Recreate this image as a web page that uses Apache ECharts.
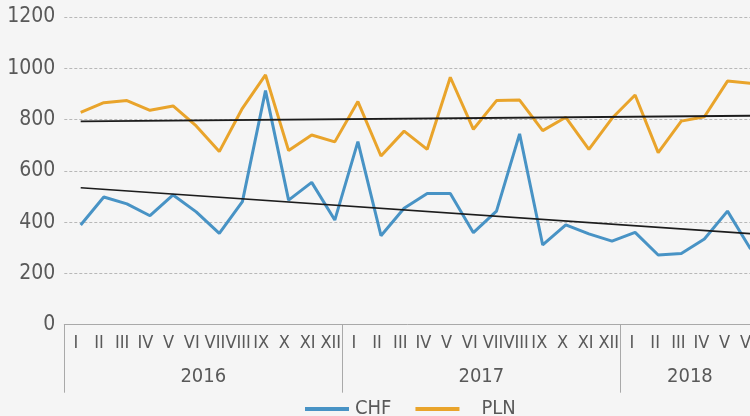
<!DOCTYPE html>
<html>
<head>
<meta charset="utf-8">
<script src="https://cdn.jsdelivr.net/npm/echarts@6/dist/echarts.min.js"></script>
<style>
html,body{margin:0;padding:0;background:#f5f5f5;}
#chart{width:750px;height:416px;}
</style>
</head>
<body>
<div id="chart"></div>
<script>
// ---- data ----
const monthLabels = [
  'I','II','III','IV','V','VI','VII','VIII','IX','X','XI','XII',
  'I','II','III','IV','V','VI','VII','VIII','IX','X','XI','XII',
  'I','II','III','IV','V','VI'
];
const years = ['2016', '2017', '2018'];
const monthsPerYear = [12, 12, 6];
const chf = [389, 498, 471, 425, 506, 440, 356, 480, 913, 486, 555, 408,
             714, 347, 454, 512, 512, 359, 443, 744, 311, 389, 354, 326,
             360, 272, 278, 334, 443, 295];
const pln = [828, 866, 874, 836, 853, 775, 675, 844, 974, 679, 740, 713,
             870, 658, 755, 684, 965, 762, 874, 876, 757, 809, 684, 805,
             896, 671, 794, 811, 950, 941];
// trend line end values (first and last month)
const chfTrend = [534, 355];
const plnTrend = [793, 815];
const yTicks = [0, 200, 400, 600, 800, 1000, 1200];

// ---- build helpers ----
const FONT = "'Liberation Sans Narrow', 'DejaVu Sans Condensed', 'Liberation Sans', sans-serif";
const nMonths = monthLabels.length;
const yearAxisData = new Array(nMonths + 1).fill('');
const yearStarts = new Set();
let start = 0;
years.forEach((y, k) => {
  yearStarts.add(start);
  yearAxisData[start + monthsPerYear[k] / 2] = y;
  start += monthsPerYear[k];
});
const lastIdx = nMonths - 1;

const chart = echarts.init(document.getElementById('chart'), null, {renderer: 'canvas'});
const option = {
  backgroundColor: '#f5f5f5',
  animation: false,
  textStyle: {fontFamily: FONT},
  grid: [
    {left: 64.3, width: 695.1, top: 17, height: 307.7, containLabel: false, outerBoundsMode: 'none'},
    {left: 69.15, width: 693, top: 17, height: 307.7, containLabel: false, outerBoundsMode: 'none'}
  ],
  xAxis: [
    {
      gridIndex: 0, type: 'category', data: monthLabels, boundaryGap: true, position: 'bottom',
      axisLine: {lineStyle: {color: '#a9a9a9', width: 1}},
      axisTick: {show: false},
      axisLabel: {interval: 0, color: '#595959', fontSize: 18, margin: 10, fontFamily: FONT, hideOverlap: false}
    },
    {
      gridIndex: 0, type: 'category', data: yearAxisData, boundaryGap: false, position: 'bottom',
      axisLine: {show: false},
      axisTick: {show: true, interval: (i) => yearStarts.has(i), length: 68,
                 lineStyle: {color: '#a9a9a9', width: 1}},
      axisLabel: {interval: 0, color: '#595959', fontSize: 20, margin: 42, fontFamily: FONT}
    },
    {
      gridIndex: 1, type: 'category', data: monthLabels, boundaryGap: true, show: false
    }
  ],
  yAxis: [
    {
      gridIndex: 0, type: 'value', min: yTicks[0], max: yTicks[yTicks.length - 1], interval: 200,
      axisLine: {show: false}, axisTick: {show: false},
      axisLabel: {color: '#595959', fontSize: 21, margin: 9, fontFamily: FONT,
                  formatter: (v) => String(v)},
      splitLine: {lineStyle: {type: [3, 2], color: '#b8b8b8', width: 1}}
    },
    {
      gridIndex: 1, type: 'value', min: yTicks[0], max: yTicks[yTicks.length - 1], show: false
    }
  ],
  legend: {
    data: [
      {name: 'CHF', textStyle: {padding: [0, 0, 0, 1]}},
      {name: 'PLN', textStyle: {padding: [0, 0, 0, 17]}}
    ],
    left: 300, top: 394,
    icon: 'rect', itemWidth: 44, itemHeight: 4, itemGap: 24,
    textStyle: {fontSize: 20, color: '#595959', fontFamily: FONT}
  },
  series: [
    {
      name: 'CHF', type: 'line', xAxisIndex: 2, yAxisIndex: 1, data: chf,
      showSymbol: false, symbol: 'none',
      lineStyle: {color: '#4893c5', width: 3}, itemStyle: {color: '#4893c5'}, z: 2
    },
    {
      name: 'PLN', type: 'line', xAxisIndex: 2, yAxisIndex: 1, data: pln,
      showSymbol: false, symbol: 'none',
      lineStyle: {color: '#e9a42b', width: 3}, itemStyle: {color: '#e9a42b'}, z: 2
    },
    {
      name: 'CHF trend', type: 'line', xAxisIndex: 2, yAxisIndex: 1,
      data: [[0, chfTrend[0]], [lastIdx, chfTrend[1]]],
      showSymbol: false, symbol: 'none', silent: true,
      lineStyle: {color: '#1c1c1c', width: 1.6}, z: 3
    },
    {
      name: 'PLN trend', type: 'line', xAxisIndex: 2, yAxisIndex: 1,
      data: [[0, plnTrend[0]], [lastIdx, plnTrend[1]]],
      showSymbol: false, symbol: 'none', silent: true,
      lineStyle: {color: '#1c1c1c', width: 1.8}, z: 3
    }
  ]
};
chart.setOption(option);
</script>
</body>
</html>
